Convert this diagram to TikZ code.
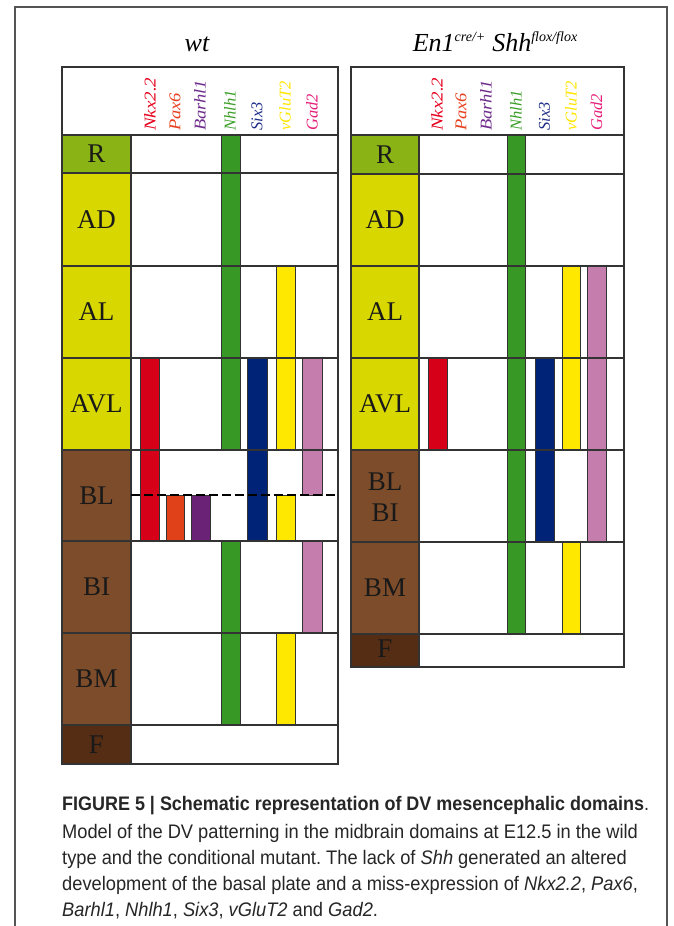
\documentclass[tikz,border=0pt]{standalone}
\usepackage{fontspec}
\usepackage{graphicx}
\setmainfont{Liberation Serif}
\newfontfamily\capfont[FakeStretch=0.932]{Liberation Sans}
\definecolor{gridc}{HTML}{333333}
\definecolor{framec}{HTML}{555555}
\definecolor{cR}{HTML}{8AB416}
\definecolor{cA}{HTML}{D8D800}
\definecolor{cB}{HTML}{7D4C2A}
\definecolor{cF}{HTML}{552D14}
\definecolor{bGreen}{HTML}{389826}
\definecolor{bYellow}{HTML}{FFE800}
\definecolor{bPink}{HTML}{C47DAC}
\definecolor{bNavy}{HTML}{002378}
\definecolor{bRed}{HTML}{D70019}
\definecolor{bOrange}{HTML}{E14119}
\definecolor{bPurple}{HTML}{6A2276}
\definecolor{tRed}{HTML}{E6001E}
\definecolor{tOrange}{HTML}{E8401E}
\definecolor{tPurple}{HTML}{6E2C8C}
\definecolor{tGreen}{HTML}{3CA028}
\definecolor{tNavy}{HTML}{1E2E88}
\definecolor{tYellow}{HTML}{FFE600}
\definecolor{tPink}{HTML}{E61E7A}
\definecolor{capc}{HTML}{262626}
\frenchspacing
\begin{document}
\begin{tikzpicture}[x=1pt,y=-1pt,
  gridline/.style={draw=gridc, line width=1.4pt},
  bar/.style={draw=gridc, line width=1pt},
  rowlbl/.style={inner sep=0pt, align=center, font=\fontsize{27}{31}\selectfont, text=black!90},
  gene/.style={rotate=90, anchor=west, inner sep=0pt, font=\fontsize{16.5}{16.5}\selectfont\itshape},
  ttl/.style={inner sep=0pt, font=\fontsize{26}{30}\selectfont\itshape},
  capline/.style={anchor=base west, inner sep=0pt, text=capc, font=\capfont\fontsize{19.6}{22}\selectfont},
  dashline/.style={draw=black, line width=2.6pt, dash pattern=on 9pt off 4pt}
]
\useasboundingbox (0,0) rectangle (673,926);
\fill[white] (0,0) rectangle (673,926);
% outer frame
\draw[framec, line width=1.1pt] (15,926) -- (15,7) -- (667,7) -- (667,926);

% ================= LEFT PANEL (wt) =================
\fill[cR] (62,135) rectangle (131,173);
\fill[cA] (62,173) rectangle (131,450);
\fill[cB] (62,450) rectangle (131,725);
\fill[cF] (62,725) rectangle (131,764);
% bars
\filldraw[bar, fill=bGreen] (221,135) rectangle (240,450);
\filldraw[bar, fill=bGreen] (221,541) rectangle (240,725);
\filldraw[bar, fill=bRed] (140,358) rectangle (159,541);
\filldraw[bar, fill=bOrange] (166,495) rectangle (184,541);
\filldraw[bar, fill=bPurple] (191,495) rectangle (210,541);
\filldraw[bar, fill=bNavy] (247,358) rectangle (267,541);
\filldraw[bar, fill=bYellow] (276,266) rectangle (295,450);
\filldraw[bar, fill=bYellow] (276,495) rectangle (295,541);
\filldraw[bar, fill=bYellow] (276,633) rectangle (295,725);
\filldraw[bar, fill=bPink] (302,358) rectangle (322,495);
\filldraw[bar, fill=bPink] (302,541) rectangle (322,633);
% grid
\draw[gridline] (62,67) rectangle (338,764);
\foreach \yy in {135,173,266,358,450,541,633,725}
  \draw[gridline] (62,\yy) -- (338,\yy);
\draw[gridline] (131,135) -- (131,764);
\draw[dashline] (131,495) -- (338,495);
% row labels
\node[rowlbl] (lR) at (96.5,154) {R};
\node[rowlbl] (lAD) at (96.5,219.5) {AD};
\node[rowlbl] (lAL) at (96.5,312) {AL};
\node[rowlbl] (lAVL) at (96.5,404) {AVL};
\node[rowlbl] (lBL) at (96.5,495.5) {BL};
\node[rowlbl] (lBI) at (96.5,587) {BI};
\node[rowlbl] (lBM) at (96.5,679) {BM};
\node[rowlbl] (lF) at (96.5,744.5) {F};
% gene labels
\node[gene, text=tRed] (gL1) at (150,131) {\scalebox{1.15}[1]{Nkx2.2}};
\node[gene, text=tOrange] (gL2) at (175,131) {\scalebox{1.12}[1]{Pax6}};
\node[gene, text=tPurple] (gL3) at (200,131) {\scalebox{1.12}[1]{Barhl1}};
\node[gene, text=tGreen] (gL4) at (230,131) {Nhlh1};
\node[gene, text=tNavy] (gL5) at (257,131) {Six3};
\node[gene, text=tYellow] (gL6) at (285,131) {vGluT2};
\node[gene, text=tPink] (gL7) at (312,131) {Gad2};
\node[ttl] (tL) at (197,44) {wt};

% ================= RIGHT PANEL (mutant) =================
\fill[cR] (351,135) rectangle (419,174);
\fill[cA] (351,174) rectangle (419,450);
\fill[cB] (351,450) rectangle (419,634);
\fill[cF] (351,634) rectangle (419,667);
\filldraw[bar, fill=bGreen] (507,135) rectangle (525,634);
\filldraw[bar, fill=bRed] (428,358) rectangle (447,450);
\filldraw[bar, fill=bNavy] (535,358) rectangle (554,542);
\filldraw[bar, fill=bYellow] (562,266) rectangle (580,450);
\filldraw[bar, fill=bYellow] (562,542) rectangle (580,634);
\filldraw[bar, fill=bPink] (587,266) rectangle (606,542);
\draw[gridline] (351,67) rectangle (624,667);
\foreach \yy in {135,174,266,358,450,542,634}
  \draw[gridline] (351,\yy) -- (624,\yy);
\draw[gridline] (419,135) -- (419,667);
\node[rowlbl] (rR) at (385,154.5) {R};
\node[rowlbl] (rAD) at (385,220) {AD};
\node[rowlbl] (rAL) at (385,312) {AL};
\node[rowlbl] (rAVL) at (385,404) {AVL};
\node[rowlbl] (rBLBI) at (385,497) {BL\\BI};
\node[rowlbl] (rBM) at (385,588) {BM};
\node[rowlbl] (rF) at (385,649) {F};
\node[gene, text=tRed] (gR1) at (437,131) {\scalebox{1.15}[1]{Nkx2.2}};
\node[gene, text=tOrange] (gR2) at (461,131) {\scalebox{1.12}[1]{Pax6}};
\node[gene, text=tPurple] (gR3) at (486,131) {\scalebox{1.12}[1]{Barhl1}};
\node[gene, text=tGreen] (gR4) at (516,131) {Nhlh1};
\node[gene, text=tNavy] (gR5) at (544.5,131) {Six3};
\node[gene, text=tYellow] (gR6) at (571,131) {vGluT2};
\node[gene, text=tPink] (gR7) at (596.5,131) {Gad2};
\node[ttl] (tR) at (495,42) {En1\raisebox{10pt}{\fontsize{14}{14}\selectfont cre/+}\hspace{7pt}Shh\raisebox{10pt}{\fontsize{14}{14}\selectfont flox/flox}};

% ================= CAPTION =================
\node[capline] (c1) at (62,810) {\scalebox{0.983}[1]{\textbf{FIGURE 5 | Schematic representation of DV mesencephalic domains}.}};
\node[capline] (c2) at (62,838) {Model of the DV patterning in the midbrain domains at E12.5 in the wild};
\node[capline] (c3) at (62,864) {type and the conditional mutant. The lack of \textit{Shh} generated an altered};
\node[capline] (c4) at (62,890) {development of the basal plate and a miss-expression of \textit{Nkx2.2}, \textit{Pax6},};
\node[capline] (c5) at (62,916) {\textit{Barhl1}, \textit{Nhlh1}, \textit{Six3}, \textit{vGluT2} and \textit{Gad2}.};
\end{tikzpicture}
\end{document}
